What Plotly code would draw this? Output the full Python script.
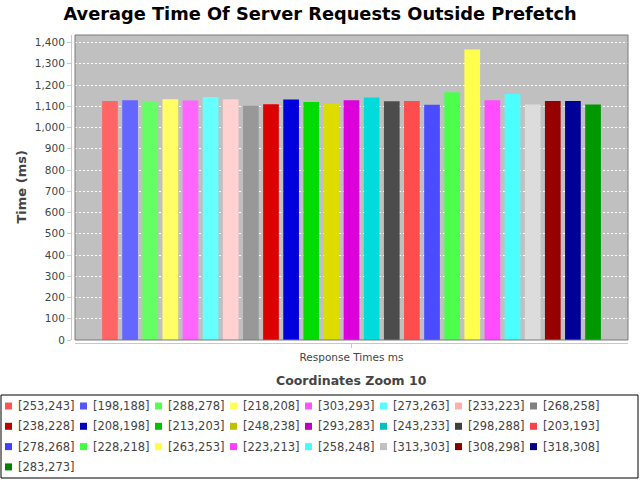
import plotly.graph_objects as go

category = ["Response Times ms"]
series_names = ["[253,243]", "[198,188]", "[288,278]", "[218,208]", "[303,293]",
                "[273,263]", "[233,223]", "[268,258]", "[238,228]", "[208,198]",
                "[213,203]", "[248,238]", "[293,283]", "[243,233]", "[298,288]",
                "[203,193]", "[278,268]", "[228,218]", "[263,253]", "[223,213]",
                "[258,248]", "[313,303]", "[308,298]", "[318,308]", "[283,273]"]
series_values = [1125, 1128, 1124, 1133, 1127, 1143, 1133, 1102, 1110, 1132,
                 1120, 1111, 1128, 1141, 1124, 1125, 1107, 1166, 1367, 1128,
                 1158, 1108, 1125, 1125, 1108]
series_colors = ["#FF5555", "#5555FF", "#55FF55", "#FFFF55", "#FF55FF", "#55FFFF",
                 "#FFAFAF", "#808080", "#C00000", "#0000C0", "#00C000", "#C0C000",
                 "#C000C0", "#00C0C0", "#404040", "#FF4040", "#4040FF", "#40FF40",
                 "#FFFF40", "#FF40FF", "#40FFFF", "#C0C0C0", "#800000", "#000080",
                 "#008000"]

W, H = 640, 480
ML, MR, MT, MB = 71, 12, 35, 137
PW = W - ML - MR
PH = H - MT - MB


def px(x):
    return (x - ML) / PW


def py(y):
    return (H - MB - y) / PH


def bar_shade(hexcol):
    # approximate the gradient bar painter: mix of base colour and its "brighter" version
    rgb = [int(hexcol[i:i + 2], 16) for i in (1, 3, 5)]
    bright = [min(255, int(c / 0.7)) if c > 0 else 0 for c in rgb]
    mixed = [round(0.55 * a + 0.45 * b) for a, b in zip(rgb, bright)]
    return "rgb({},{},{})".format(*mixed)


fig = go.Figure()
for name, val, col in zip(series_names, series_values, series_colors):
    fig.add_trace(go.Bar(x=category, y=[val], name=name,
                         marker=dict(color=bar_shade(col), line=dict(width=0)),
                         showlegend=False))

FONT = "DejaVu Sans"
shapes = [dict(type="rect", xref="x domain", yref="y domain", x0=0, x1=1, y0=0, y1=1,
               line=dict(color="#7a7a7a", width=1), layer="above")]
annotations = [
    dict(text="Time (ms)", xref="paper", yref="paper", x=px(21), y=py(187.5),
         textangle=-90, showarrow=False, xanchor="center", yanchor="middle",
         font=dict(family=FONT, size=13, color="#444444", weight="bold")),
    dict(text="Coordinates Zoom 10", xref="paper", yref="paper", x=px(351), y=py(380),
         showarrow=False, xanchor="center", yanchor="middle",
         font=dict(family=FONT, size=12.5, color="#444444", weight="bold")),
]

# legend box built from the series arrays
shapes.append(dict(type="rect", xref="paper", yref="paper", x0=px(1), x1=px(638),
                   y0=py(395), y1=py(478), line=dict(color="black", width=1),
                   fillcolor="white"))
for i, (name, col) in enumerate(zip(series_names, series_colors)):
    c, r = i % 8, i // 8
    x0 = 5 + 75 * c
    yc = 406 + 20.3 * r
    shapes.append(dict(type="rect", xref="paper", yref="paper", x0=px(x0), x1=px(x0 + 7),
                       y0=py(yc - 3.5), y1=py(yc + 3.5), line=dict(width=0), fillcolor=col))
    annotations.append(dict(text=name, xref="paper", yref="paper", x=px(x0 + 11), y=py(yc),
                            showarrow=False, xanchor="left", yanchor="middle",
                            font=dict(family=FONT, size=11.5, color="#444444")))

fig.update_layout(
    width=W, height=H,
    margin=dict(l=ML, r=MR, t=MT, b=MB),
    paper_bgcolor="white",
    plot_bgcolor="#C0C0C0",
    barmode="group", bargap=0.09, bargroupgap=0.22,
    title=dict(text="<b>Average Time Of Server Requests Outside Prefetch</b>",
               x=0.5, xref="container", xanchor="center",
               y=1 - 14 / H, yref="container", yanchor="middle",
               font=dict(family=FONT, size=17.8, color="black")),
    xaxis=dict(domain=[4 / PW, 1], anchor="free", position=0, type="category",
               showgrid=False, showline=True, linecolor="#C8C8C8", linewidth=1,
               ticks="outside", ticklen=4, tickcolor="#C8C8C8",
               tickfont=dict(family=FONT, size=10.5, color="#444444")),
    yaxis=dict(domain=[3 / PH, 1], anchor="free", position=0,
               range=[0, max(series_values) * 1.05], dtick=100, tickformat=",d",
               showgrid=True, gridcolor="white", griddash="2px,2px", gridwidth=1,
               zeroline=False, showline=True, linecolor="#C8C8C8", linewidth=1,
               ticks="outside", ticklen=4, tickcolor="#C8C8C8",
               tickfont=dict(family=FONT, size=10.5, color="#444444")),
    shapes=shapes,
    annotations=annotations,
    showlegend=False,
)

fig.write_html("out.html", config={"displayModeBar": False},
               post_script="document.body.style.margin='0';document.body.style.overflow='hidden';")
